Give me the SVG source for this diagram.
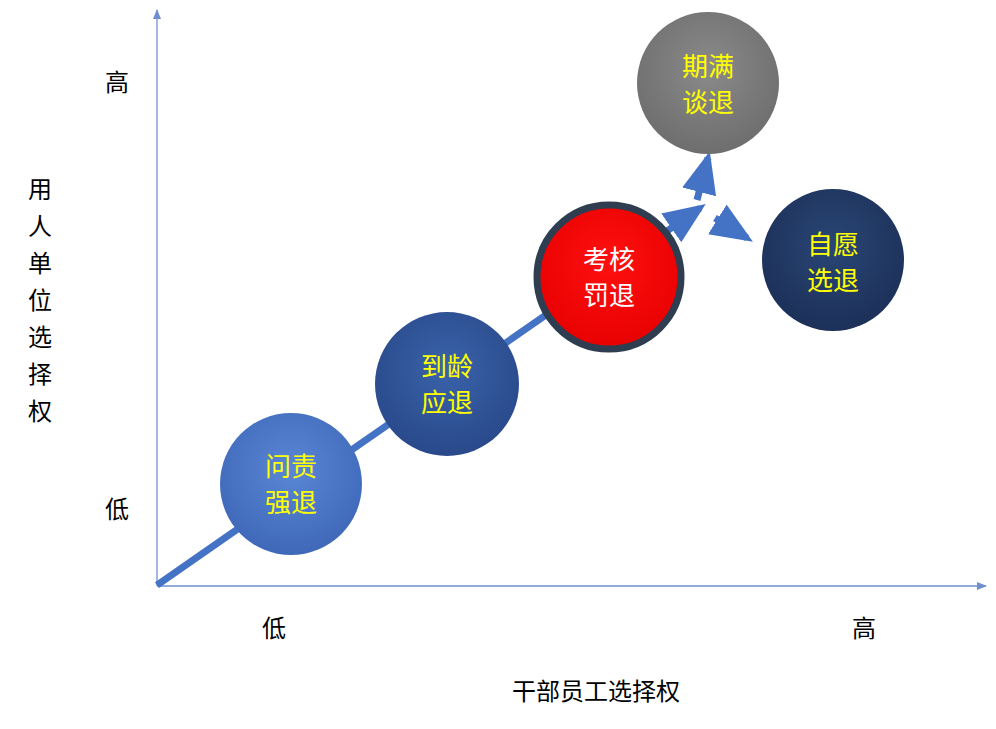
<svg xmlns="http://www.w3.org/2000/svg" width="996" height="729" viewBox="0 0 996 729">
<defs>
<style>
.lbl{font-family:"Liberation Sans","Noto Sans CJK SC",sans-serif;font-size:26px;text-anchor:middle;}
.ax{font-family:"Liberation Sans","Noto Sans CJK SC",sans-serif;font-size:24px;text-anchor:middle;fill:#000;}
.y{fill:#ffff00;}
.w{fill:#ffffff;}
.axis{stroke:#6f8fd0;stroke-width:1.3;fill:none;}
.main{stroke:#4472c4;stroke-width:7;fill:none;}
</style>
<marker id="ta" markerWidth="10" markerHeight="8" refX="9" refY="4" orient="auto" markerUnits="userSpaceOnUse"><path d="M0,0 L10,4 L0,8 z" fill="#6f8fd0"/></marker>
<marker id="big" markerWidth="6" markerHeight="5" refX="5" refY="2.5" orient="auto"><path d="M0,0 L6,2.5 L0,5 z" fill="#4472c4"/></marker>
<radialGradient id="g1" cx="0.5" cy="0.4" r="0.6"><stop offset="0" stop-color="#5a86d6"/><stop offset="1" stop-color="#3f69b8"/></radialGradient>
<radialGradient id="g2" cx="0.5" cy="0.4" r="0.6"><stop offset="0" stop-color="#3a63aa"/><stop offset="1" stop-color="#29498a"/></radialGradient>
<radialGradient id="g3" cx="0.5" cy="0.4" r="0.6"><stop offset="0" stop-color="#ff1010"/><stop offset="1" stop-color="#e80000"/></radialGradient>
<radialGradient id="g4" cx="0.5" cy="0.4" r="0.6"><stop offset="0" stop-color="#8a8a8a"/><stop offset="1" stop-color="#6e6e6e"/></radialGradient>
<radialGradient id="g5" cx="0.5" cy="0.4" r="0.6"><stop offset="0" stop-color="#2a4676"/><stop offset="1" stop-color="#1c3058"/></radialGradient>
</defs>
<rect width="996" height="729" fill="#fff"/>
<g id="connectors">
<line class="axis" x1="157" y1="586" x2="157" y2="10" marker-end="url(#ta)"/>
<line class="axis" x1="157" y1="586" x2="986" y2="586" marker-end="url(#ta)"/>
<line class="main" x1="157" y1="585" x2="700" y2="208" marker-end="url(#big)"/>
<line class="main" x1="697" y1="200" x2="708" y2="158" marker-end="url(#big)"/>
<line class="main" x1="715" y1="218" x2="747" y2="238" marker-end="url(#big)"/>
</g>
<g id="n1"><circle cx="291" cy="484" r="71" fill="url(#g1)"/><text class="lbl y" x="291" y="476">问责</text><text class="lbl y" x="291" y="512">强退</text></g>
<g id="n2"><circle cx="447" cy="384" r="72" fill="url(#g2)"/><text class="lbl y" x="447" y="376">到龄</text><text class="lbl y" x="447" y="412">应退</text></g>
<g id="n3"><circle cx="609" cy="277" r="72" fill="url(#g3)" stroke="#2e3d50" stroke-width="7"/><text class="lbl w" x="609" y="269">考核</text><text class="lbl w" x="609" y="305">罚退</text></g>
<g id="n4"><circle cx="708" cy="83" r="71" fill="url(#g4)"/><text class="lbl y" x="708" y="76">期满</text><text class="lbl y" x="708" y="112">谈退</text></g>
<g id="n5"><circle cx="833" cy="260" r="71" fill="url(#g5)"/><text class="lbl y" x="833" y="254">自愿</text><text class="lbl y" x="833" y="290">选退</text></g>
<g id="axis-labels">
<text class="ax" x="117" y="91">高</text>
<text class="ax" x="117" y="518">低</text>
<text class="ax" x="274" y="637">低</text>
<text class="ax" x="864" y="637">高</text>
<text class="ax" x="596" y="700">干部员工选择权</text>
<text class="ax" x="40" y="198">用</text>
<text class="ax" x="40" y="235">人</text>
<text class="ax" x="40" y="272">单</text>
<text class="ax" x="40" y="309">位</text>
<text class="ax" x="40" y="346">选</text>
<text class="ax" x="40" y="383">择</text>
<text class="ax" x="40" y="420">权</text>
</g>
</svg>
